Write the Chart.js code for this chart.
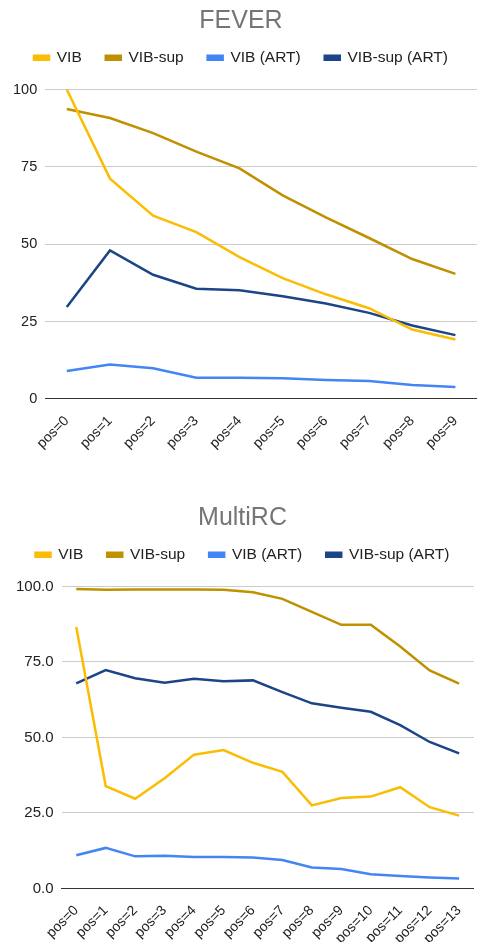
<!DOCTYPE html>
<html>
<head>
<meta charset="utf-8">
<script src="https://cdn.jsdelivr.net/npm/chart.js@4.4.0/dist/chart.umd.min.js"></script>
<style>
  body { margin: 0; background: #fff; width: 477px; height: 942px; overflow: hidden; position: relative; }
  .box { position: absolute; left: 0; width: 477px; }
  #box1 { top: 0; height: 458px; }
  #box2 { top: 497px; height: 456px; }
</style>
</head>
<body>
<div class="box" id="box1"><canvas id="fever"></canvas></div>
<div class="box" id="box2"><canvas id="multirc"></canvas></div>
<script>
const seriesNames = ['VIB', 'VIB-sup', 'VIB (ART)', 'VIB-sup (ART)'];
const colors = ['#fbbc04', '#bf9000', '#4285f4', '#1c4587'];

const feverLabels = ['pos=0','pos=1','pos=2','pos=3','pos=4','pos=5','pos=6','pos=7','pos=8','pos=9'];
const feverVib = [100, 71.2, 59.2, 53.9, 45.8, 39.0, 33.8, 29.3, 22.4, 19.2];
const feverVibSup = [93.7, 90.8, 85.9, 79.9, 74.5, 65.8, 58.7, 52.0, 45.2, 40.4];
const feverVibArt = [9.0, 11.1, 9.9, 6.8, 6.8, 6.7, 6.1, 5.8, 4.5, 3.8];
const feverVibSupArt = [29.7, 48.0, 40.1, 35.6, 35.1, 33.2, 30.8, 27.8, 23.7, 20.6];
const feverTicks = [0, 25, 50, 75, 100];

const mrcLabels = ['pos=0','pos=1','pos=2','pos=3','pos=4','pos=5','pos=6','pos=7','pos=8','pos=9','pos=10','pos=11','pos=12','pos=13'];
const mrcVib = [86.6, 33.9, 29.7, 36.5, 44.3, 45.8, 41.6, 38.6, 27.5, 29.9, 30.4, 33.5, 26.9, 24.1];
const mrcVibSup = [99.2, 98.9, 99.0, 99.0, 99.0, 98.9, 98.1, 95.9, 91.6, 87.3, 87.3, 80.1, 72.2, 67.8];
const mrcVibArt = [11.0, 13.4, 10.6, 10.8, 10.4, 10.4, 10.2, 9.4, 6.9, 6.4, 4.7, 4.1, 3.6, 3.3];
const mrcVibSupArt = [67.9, 72.3, 69.6, 68.1, 69.4, 68.6, 68.9, 65.0, 61.3, 59.8, 58.5, 54.1, 48.5, 44.7];
const mrcTicks = [0, 25, 50, 75, 100];

const font = 'Liberation Sans, Arial, sans-serif';

// extra room under the legend
const legendGap = {
  id: 'legendGap',
  beforeInit(chart) {
    const fit = chart.legend.fit;
    chart.legend.fit = function () {
      fit.call(this);
      this.height += 14;
    };
  }
};

function makeChart(id, title, labels, series, ticks, decimals, leftPad, ySize) {
  const datasets = series.map(function (vals, i) {
    return {
      label: seriesNames[i],
      data: vals,
      borderColor: colors[i],
      backgroundColor: colors[i],
      borderWidth: 2.5,
      pointRadius: 0,
      tension: 0,
      fill: false
    };
  });
  return new Chart(document.getElementById(id), {
    type: 'line',
    data: { labels: labels, datasets: datasets },
    plugins: [legendGap],
    options: {
      responsive: true,
      maintainAspectRatio: false,
      animation: false,
      layout: { padding: { left: leftPad, right: 0, top: 6, bottom: 0 } },
      plugins: {
        title: {
          display: true,
          text: title,
          color: '#757575',
          font: { family: font, size: 25, weight: 'normal' },
          padding: { top: 0, bottom: -10 }
        },
        legend: {
          labels: {
            boxWidth: 15,
            boxHeight: 4,
            color: '#222',
            font: { family: font, size: 15.5 },
            padding: 24
          }
        },
        tooltip: { enabled: false }
      },
      scales: {
        x: {
          offset: true,
          grid: { display: false },
          border: { color: '#333', width: 1 },
          ticks: {
            color: '#222',
            font: { family: font, size: 14 },
            minRotation: 45,
            maxRotation: 45,
            autoSkip: false,
            padding: 6
          }
        },
        y: {
          min: ticks[0],
          max: ticks[ticks.length - 1],
          afterBuildTicks: function (axis) {
            axis.ticks = ticks.map(function (v) { return { value: v }; });
          },
          grid: { color: '#cccccc', drawTicks: false },
          border: { display: false },
          ticks: {
            color: '#222',
            font: { family: font, size: ySize },
            padding: 8,
            callback: function (v) { return v.toFixed(decimals); }
          }
        }
      }
    }
  });
}

makeChart('fever', 'FEVER', feverLabels, [feverVib, feverVibSup, feverVibArt, feverVibSupArt], feverTicks, 0, 5, 14.5);
makeChart('multirc', 'MultiRC', mrcLabels, [mrcVib, mrcVibSup, mrcVibArt, mrcVibSupArt], mrcTicks, 1, 8, 15);
</script>
</body>
</html>
